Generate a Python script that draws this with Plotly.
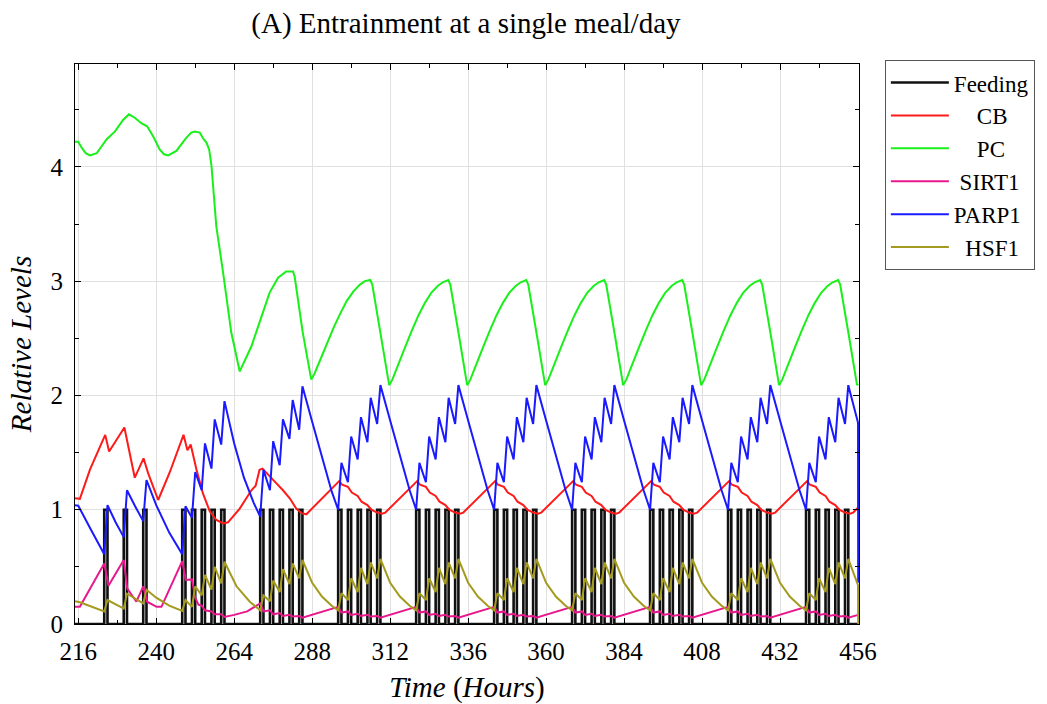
import plotly.graph_objects as go

# ---------------- data ----------------
feed_t = [215, 224, 225, 230, 231, 236, 237,
          248, 249, 251, 252, 254, 255, 257, 258, 260, 261,
          272, 273, 275, 276, 278, 279, 281, 282, 284, 285,
          296, 297, 299, 300, 302, 303, 305, 306, 308, 309,
          320, 321, 323, 324, 326, 327, 329, 330, 332, 333,
          344, 345, 347, 348, 350, 351, 353, 354, 356, 357,
          368, 369, 371, 372, 374, 375, 377, 378, 380, 381,
          392, 393, 395, 396, 398, 399, 401, 402, 404, 405,
          416, 417, 419, 420, 422, 423, 425, 426, 428, 429,
          440, 441, 443, 444, 446, 447, 449, 450, 452, 453, 456.3]
feed_v = [0, 1, 0, 1, 0, 1, 0,
          1, 0, 1, 0, 1, 0, 1, 0, 1, 0,
          1, 0, 1, 0, 1, 0, 1, 0, 1, 0,
          1, 0, 1, 0, 1, 0, 1, 0, 1, 0,
          1, 0, 1, 0, 1, 0, 1, 0, 1, 0,
          1, 0, 1, 0, 1, 0, 1, 0, 1, 0,
          1, 0, 1, 0, 1, 0, 1, 0, 1, 0,
          1, 0, 1, 0, 1, 0, 1, 0, 1, 0,
          1, 0, 1, 0, 1, 0, 1, 0, 1, 0,
          1, 0, 1, 0, 1, 0, 1, 0, 1, 0, 0]

cb_t = [215, 216.5, 219.6, 222.1, 224.3, 225.5, 230.2, 233.4, 236.1, 237.5, 240.6, 244.2,
        248.4, 249.6, 250.6, 252.4, 254.4, 256.5, 258.5, 260.6, 262.1, 265.7, 269.3, 270.6, 271.8,
        272.7, 274.9, 277.0, 279.0, 281.1, 283.1, 284.7, 286.2,
        296.3, 297.2, 299, 300.2, 302, 303.2, 305, 306.2, 308, 309.5, 310.5,
        320.3, 321.2, 323, 324.2, 326, 327.2, 329, 330.2, 332, 333.5, 334.5,
        344.3, 345.2, 347, 348.2, 350, 351.2, 353, 354.2, 356, 357.5, 358.5,
        368.3, 369.2, 371, 372.2, 374, 375.2, 377, 378.2, 380, 381.5, 382.5,
        392.3, 393.2, 395, 396.2, 398, 399.2, 401, 402.2, 404, 405.5, 406.5,
        416.3, 417.2, 419, 420.2, 422, 423.2, 425, 426.2, 428, 429.5, 430.5,
        440.3, 441.2, 443, 444.2, 446, 447.2, 449, 450.2, 452, 453.5, 454.5, 456.05]
cb_v = [1.10, 1.095, 1.35, 1.52, 1.655, 1.51, 1.72, 1.28, 1.45, 1.32, 1.085, 1.33,
        1.655, 1.52, 1.57, 1.35, 1.14, 0.985, 0.91, 0.88, 0.89, 1.01, 1.17, 1.21, 1.35,
        1.36, 1.29, 1.23, 1.17, 1.10, 1.01, 0.97, 0.96,
        1.25, 1.22, 1.20, 1.15, 1.12, 1.07, 1.04, 1.00, 0.975, 0.965, 0.975,
        1.25, 1.22, 1.20, 1.15, 1.12, 1.07, 1.04, 1.00, 0.975, 0.965, 0.975,
        1.25, 1.22, 1.20, 1.15, 1.12, 1.07, 1.04, 1.00, 0.975, 0.965, 0.975,
        1.25, 1.22, 1.20, 1.15, 1.12, 1.07, 1.04, 1.00, 0.975, 0.965, 0.975,
        1.25, 1.22, 1.20, 1.15, 1.12, 1.07, 1.04, 1.00, 0.975, 0.965, 0.975,
        1.25, 1.22, 1.20, 1.15, 1.12, 1.07, 1.04, 1.00, 0.975, 0.965, 0.975,
        1.25, 1.22, 1.20, 1.15, 1.12, 1.07, 1.04, 1.00, 0.975, 0.965, 0.975, 1.02]

pc_t = [215, 216, 217, 218.3, 219.6, 221.7, 223.2, 224.7, 227.3, 229.8, 231.6, 233.4, 235.5,
        237.2, 239.0, 241.1, 242.4, 243.7, 246.2, 249.1, 250.8, 251.9, 253.4, 254.4, 255.5,
        256.3, 257.0, 258.5, 260.6, 263.1, 265.7, 269.3, 272.4, 274.9, 277.5, 280.0, 282.1,
        282.6, 285.1, 287.7,
        288.7, 290.7, 292.7, 294.7, 296.7, 298.7, 300.7, 302.7, 304.2, 305.9, 306.5, 309.2,
        311.7, 312.7, 314.7, 316.7, 318.7, 320.7, 322.7, 324.7, 326.7, 328.2, 329.9, 330.5, 333.2,
        335.7, 336.7, 338.7, 340.7, 342.7, 344.7, 346.7, 348.7, 350.7, 352.2, 353.9, 354.5, 357.2,
        359.7, 360.7, 362.7, 364.7, 366.7, 368.7, 370.7, 372.7, 374.7, 376.2, 377.9, 378.5, 381.2,
        383.7, 384.7, 386.7, 388.7, 390.7, 392.7, 394.7, 396.7, 398.7, 400.2, 401.9, 402.5, 405.2,
        407.7, 408.7, 410.7, 412.7, 414.7, 416.7, 418.7, 420.7, 422.7, 424.2, 425.9, 426.5, 429.2,
        431.7, 432.7, 434.7, 436.7, 438.7, 440.7, 442.7, 444.7, 446.7, 448.2, 449.9, 450.5, 453.2,
        455.7, 456.05]
pc_v = [4.22, 4.22, 4.17, 4.12, 4.10, 4.12, 4.18, 4.24, 4.31, 4.41, 4.46, 4.43, 4.38,
        4.355, 4.27, 4.15, 4.11, 4.10, 4.14, 4.25, 4.30, 4.31, 4.30, 4.25, 4.21,
        4.15, 4.01, 3.48, 3.07, 2.55, 2.21, 2.43, 2.69, 2.90, 3.03, 3.085, 3.085,
        3.04, 2.55, 2.14,
        2.19, 2.33, 2.47, 2.60, 2.72, 2.83, 2.91, 2.97, 3.00, 3.01, 2.97, 2.52,
        2.09, 2.14, 2.29, 2.43, 2.57, 2.70, 2.81, 2.90, 2.96, 2.99, 3.01, 2.97, 2.52,
        2.09, 2.14, 2.29, 2.43, 2.57, 2.70, 2.81, 2.90, 2.96, 2.99, 3.01, 2.97, 2.52,
        2.09, 2.14, 2.29, 2.43, 2.57, 2.70, 2.81, 2.90, 2.96, 2.99, 3.01, 2.97, 2.52,
        2.09, 2.14, 2.29, 2.43, 2.57, 2.70, 2.81, 2.90, 2.96, 2.99, 3.01, 2.97, 2.52,
        2.09, 2.14, 2.29, 2.43, 2.57, 2.70, 2.81, 2.90, 2.96, 2.99, 3.01, 2.97, 2.52,
        2.09, 2.14, 2.29, 2.43, 2.57, 2.70, 2.81, 2.90, 2.96, 2.99, 3.01, 2.97, 2.52,
        2.09, 2.10]

sirt1_t = [215, 216.5, 224, 225.3, 230, 231.1, 233.9, 236, 237.2, 240.1, 241.6,
           248, 249.1, 251, 252, 253, 254, 255, 257, 258, 260, 261, 264, 268,
           272, 273, 275, 276, 278, 279, 281, 282, 284, 285,
           296, 297, 299, 300, 302, 303, 305, 306, 308, 309,
           320, 321, 323, 324, 326, 327, 329, 330, 332, 333,
           344, 345, 347, 348, 350, 351, 353, 354, 356, 357,
           368, 369, 371, 372, 374, 375, 377, 378, 380, 381,
           392, 393, 395, 396, 398, 399, 401, 402, 404, 405,
           416, 417, 419, 420, 422, 423, 425, 426, 428, 429,
           440, 441, 443, 444, 446, 447, 449, 450, 452, 453, 456.05]
sirt1_v = [0.15, 0.15, 0.53, 0.335, 0.56, 0.31, 0.195, 0.33, 0.195, 0.15, 0.15,
           0.55, 0.385, 0.39, 0.23, 0.17, 0.16, 0.12, 0.11, 0.085, 0.085, 0.062, 0.08, 0.11,
           0.18, 0.11, 0.12, 0.085, 0.095, 0.07, 0.08, 0.065, 0.07, 0.055,
           0.15, 0.10, 0.11, 0.08, 0.09, 0.07, 0.08, 0.065, 0.07, 0.055,
           0.15, 0.10, 0.11, 0.08, 0.09, 0.07, 0.08, 0.065, 0.07, 0.055,
           0.15, 0.10, 0.11, 0.08, 0.09, 0.07, 0.08, 0.065, 0.07, 0.055,
           0.15, 0.10, 0.11, 0.08, 0.09, 0.07, 0.08, 0.065, 0.07, 0.055,
           0.15, 0.10, 0.11, 0.08, 0.09, 0.07, 0.08, 0.065, 0.07, 0.055,
           0.15, 0.10, 0.11, 0.08, 0.09, 0.07, 0.08, 0.065, 0.07, 0.055,
           0.15, 0.10, 0.11, 0.08, 0.09, 0.07, 0.08, 0.065, 0.07, 0.055, 0.08]

parp1_t = [215, 216, 220, 224, 225, 227.5, 230, 231, 233.5, 236, 237, 240, 244,
           248, 249, 251, 252, 254, 255, 257, 258, 260, 261, 264, 267, 270,
           272, 273, 275, 276, 278, 279, 281, 282, 284, 285, 288, 291, 294,
           296, 297, 299, 300, 302, 303, 305, 306, 308, 309, 312, 315, 318,
           320, 321, 323, 324, 326, 327, 329, 330, 332, 333, 336, 339, 342,
           344, 345, 347, 348, 350, 351, 353, 354, 356, 357, 360, 363, 366,
           368, 369, 371, 372, 374, 375, 377, 378, 380, 381, 384, 387, 390,
           392, 393, 395, 396, 398, 399, 401, 402, 404, 405, 408, 411, 414,
           416, 417, 419, 420, 422, 423, 425, 426, 428, 429, 432, 435, 438,
           440, 441, 443, 444, 446, 447, 449, 450, 452, 453, 456, 456.05]
parp1_v = [1.04, 1.035, 0.82, 0.61, 1.04, 0.89, 0.76, 1.17, 1.03, 0.90, 1.26, 1.04, 0.80,
           0.61, 1.03, 0.93, 1.33, 1.17, 1.58, 1.36, 1.79, 1.57, 1.95, 1.58, 1.28, 1.06,
           0.94, 1.35, 1.17, 1.60, 1.39, 1.79, 1.62, 1.96, 1.70, 2.08, 1.77, 1.46, 1.16,
           1.00, 1.41, 1.24, 1.64, 1.44, 1.81, 1.59, 1.98, 1.75, 2.09, 1.78, 1.47, 1.17,
           1.00, 1.41, 1.24, 1.64, 1.44, 1.81, 1.59, 1.98, 1.75, 2.09, 1.78, 1.47, 1.17,
           1.00, 1.41, 1.24, 1.64, 1.44, 1.81, 1.59, 1.98, 1.75, 2.09, 1.78, 1.47, 1.17,
           1.00, 1.41, 1.24, 1.64, 1.44, 1.81, 1.59, 1.98, 1.75, 2.09, 1.78, 1.47, 1.17,
           1.00, 1.41, 1.24, 1.64, 1.44, 1.81, 1.59, 1.98, 1.75, 2.09, 1.78, 1.47, 1.17,
           1.00, 1.41, 1.24, 1.64, 1.44, 1.81, 1.59, 1.98, 1.75, 2.09, 1.78, 1.47, 1.17,
           1.00, 1.41, 1.24, 1.64, 1.44, 1.81, 1.59, 1.98, 1.75, 2.09, 1.76, 0.36]

hsf1_t = [215, 216.5, 224, 225, 230, 231, 236, 237, 240, 244,
          248, 249, 251, 252, 254, 255, 257, 258, 260, 261, 264.7, 268.8,
          272, 273, 275, 276, 278, 279, 281, 282, 284, 285, 288, 291, 294,
          296, 297, 299, 300, 302, 303, 305, 306, 308, 309, 312, 315, 318,
          320, 321, 323, 324, 326, 327, 329, 330, 332, 333, 336, 339, 342,
          344, 345, 347, 348, 350, 351, 353, 354, 356, 357, 360, 363, 366,
          368, 369, 371, 372, 374, 375, 377, 378, 380, 381, 384, 387, 390,
          392, 393, 395, 396, 398, 399, 401, 402, 404, 405, 408, 411, 414,
          416, 417, 419, 420, 422, 423, 425, 426, 428, 429, 432, 435, 438,
          440, 441, 443, 444, 446, 447, 449, 450, 452, 453, 456, 456.05]
hsf1_v = [0.20, 0.19, 0.11, 0.21, 0.135, 0.265, 0.18, 0.30, 0.23, 0.16,
          0.115, 0.21, 0.15, 0.33, 0.25, 0.43, 0.30, 0.50, 0.356, 0.545, 0.33, 0.195,
          0.12, 0.25, 0.20, 0.38, 0.28, 0.48, 0.35, 0.53, 0.40, 0.56, 0.36, 0.24, 0.16,
          0.12, 0.27, 0.21, 0.40, 0.28, 0.49, 0.35, 0.54, 0.40, 0.57, 0.36, 0.24, 0.16,
          0.12, 0.27, 0.21, 0.40, 0.28, 0.49, 0.35, 0.54, 0.40, 0.57, 0.36, 0.24, 0.16,
          0.12, 0.27, 0.21, 0.40, 0.28, 0.49, 0.35, 0.54, 0.40, 0.57, 0.36, 0.24, 0.16,
          0.12, 0.27, 0.21, 0.40, 0.28, 0.49, 0.35, 0.54, 0.40, 0.57, 0.36, 0.24, 0.16,
          0.12, 0.27, 0.21, 0.40, 0.28, 0.49, 0.35, 0.54, 0.40, 0.57, 0.36, 0.24, 0.16,
          0.12, 0.27, 0.21, 0.40, 0.28, 0.49, 0.35, 0.54, 0.40, 0.57, 0.36, 0.24, 0.16,
          0.12, 0.27, 0.21, 0.40, 0.28, 0.49, 0.35, 0.54, 0.40, 0.57, 0.34, 0.0]

x_ticks = [216, 240, 264, 288, 312, 336, 360, 384, 408, 432, 456]
y_ticks = [0, 1, 2, 3, 4]

# legend labels (padded with no-break spaces so they sit centred like the original)
NB = "\u00a0"
legend_names = ["Feeding", NB * 4 + "CB", NB * 4 + "PC", NB + "SIRT1", "PARP1", NB * 2 + "HSF1"]

FONT = "Liberation Serif"

# ---------------- figure ----------------
fig = go.Figure()
series = [
    (feed_t, feed_v, "#111111", 2.6, "hv"),
    (cb_t, cb_v, "#ff1a1a", 2.0, "linear"),
    (pc_t, pc_v, "#19f019", 2.0, "linear"),
    (sirt1_t, sirt1_v, "#e8188c", 2.0, "linear"),
    (parp1_t, parp1_v, "#1a1aff", 2.0, "linear"),
    (hsf1_t, hsf1_v, "#a39a1e", 2.0, "linear"),
]
for name, (xs, ys, col, w, shape) in zip(legend_names, series):
    fig.add_trace(go.Scatter(x=xs, y=ys, mode="lines", name=name,
                             line=dict(color=col, width=w, shape=shape)))

axis_common = dict(
    showline=True, linecolor="black", linewidth=1, mirror="allticks",
    ticks="inside", ticklen=6, tickcolor="black", tickwidth=1,
    showgrid=True, gridcolor="#e0e0e0", gridwidth=1, zeroline=False,
    automargin=False,
    tickfont=dict(family=FONT, size=25, color="black"),
)

fig.update_layout(
    width=1047, height=704,
    margin=dict(l=75, r=186, t=64, b=80),
    paper_bgcolor="white", plot_bgcolor="white",
    font=dict(family=FONT, color="black"),
    title=dict(text="(A) Entrainment at a single meal/day", x=0.445, y=0.968,
               xanchor="center", yanchor="middle",
               font=dict(family=FONT, size=29, color="black")),
    xaxis=dict(range=[215.0, 456.3], tickvals=x_ticks, ticktext=[str(v) for v in x_ticks],
               ticklabelstandoff=5,
               title=dict(text="<i>Time</i> (<i>Hours</i>)", standoff=12,
                          font=dict(family=FONT, size=29, color="black")),
               minor=dict(dtick=12, tick0=216, ticks="inside", ticklen=4, showgrid=False,
                          tickcolor="black"),
               **axis_common),
    yaxis=dict(range=[0, 4.9], tickvals=y_ticks, ticktext=[str(v) for v in y_ticks],
               ticklabelstandoff=6,
               title=dict(text="<i>Relative Levels</i>", standoff=10,
                          font=dict(family=FONT, size=29, color="black")),
               minor=dict(dtick=0.5, tick0=0, ticks="inside", ticklen=4, showgrid=False,
                          tickcolor="black"),
               **axis_common),
    legend=dict(x=1.033, y=1.007, xanchor="left", yanchor="top",
                bordercolor="#555555", borderwidth=1, bgcolor="white",
                font=dict(family=FONT, size=23, color="black"),
                itemwidth=58, tracegroupgap=0),
    showlegend=True,
)

fig.write_html("out.html")
